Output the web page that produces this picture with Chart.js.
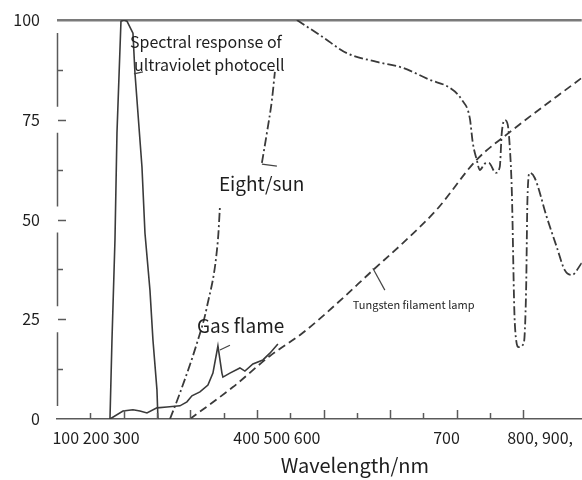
<!DOCTYPE html>
<html>
<head>
<meta charset="utf-8">
<script src="https://cdn.jsdelivr.net/npm/chart.js@4.4.1/dist/chart.umd.min.js"></script>
<style>
  html, body { margin: 0; padding: 0; background: #ffffff; }
  #wrap { width: 582px; height: 480px; }
</style>
</head>
<body>
<div id="wrap"><canvas id="c" width="582" height="480"></canvas></div>
<script>
// ---- data (x in axis-position units, y in relative %) ----
const uvX  = [1.59, 1.65, 1.74, 1.80, 1.92, 2.01, 2.10, 2.28, 2.34, 2.55, 2.64, 2.79, 2.88, 3.00, 3.03];
const uvY  = [0, 19.8, 44.9, 71.7, 99.7, 100, 99.7, 96.7, 86.7, 63.2, 46.6, 32.3, 19.8, 7.3, 0];

const gasX = [1.59, 1.98, 2.28, 2.49, 2.70, 3.00, 3.30, 3.69, 3.90, 4.05, 4.29, 4.53, 4.68, 4.83, 4.95, 4.98, 5.19, 5.49, 5.64, 5.88, 6.18, 6.39, 6.63];
const gasY = [0, 2.0, 2.3, 2.0, 1.5, 2.8, 3.0, 3.3, 4.3, 5.8, 6.8, 8.5, 11.5, 18.3, 11.5, 10.5, 11.5, 12.8, 12.0, 13.8, 14.8, 16.5, 18.8];

const sunX = [3.39, 3.69, 4.20, 4.50, 4.83, 4.89, 5.50, 6.15, 6.30, 6.45, 6.54, 6.90, 7.20, 7.98, 8.70, 9.60, 10.38, 11.19, 11.79, 12.15,
              12.39, 12.48, 12.60, 12.69, 12.84, 12.96, 13.17, 13.29, 13.35, 13.44, 13.53, 13.59, 13.65, 13.74, 13.86, 14.01,
              14.08, 14.12, 14.19, 14.34, 14.70, 15.00, 15.24, 15.45, 15.75];
const sunY = [0, 6.5, 19.0, 28.1, 44.9, 53.1, null, 64.2, 71.7, 79.9, 87.0, null, 100, 95.7, 91.7, 89.5, 88.0, 85.0, 83.0, 80.0,
              75.4, 69.2, 64.9, 62.4, 64.0, 64.2, 61.7, 63.2, 71.7, 74.9, 73.7, 68.2, 57.4, 24.1, 18.0, 19.0,
              32.3, 55.0, 61.7, 60.4, 50.6, 43.1, 37.3, 36.1, 39.1];

const tungX = [3.99, 5.28, 6.39, 7.38, 8.58, 9.39, 10.38, 11.40, 12.60, 13.59, 15.75];
const tungY = [0, 8.0, 15.8, 21.6, 30.3, 36.6, 44.1, 52.5, 65.0, 71.9, 85.5];

const xTickLabels = ['100 200 300', '400 500 600', '700', '800, 900,'];
const xTickAt     = [1.17, 6.6, 11.69, 14.5];
const yTickLabels = ['0', '25', '50', '75', '100'];

const seriesNames = ['Spectral response of ultraviolet photocell', 'Gas flame', 'Eight/sun', 'Tungsten filament lamp'];
const axisTitle = 'Wavelength/nm';

// ---- helpers ----
const pts = (xs, ys) => xs.map((x, i) => ({ x: x, y: ys[i] }));
const FONT = '"Noto Sans CJK SC", "Noto Sans", sans-serif';
Chart.defaults.font.family = FONT;

// text annotations and leader lines, anchored in data units
const notes = [
  { text: 'Spectral response of', x: 2.19, y: 93.0, size: 16 },
  { text: 'ultraviolet photocell', x: 2.31, y: 87.2, size: 16 },
  { text: 'Eight/sun', x: 4.86, y: 57.1, size: 19 },
  { text: 'Gas flame', x: 4.20, y: 21.6, size: 19 },
  { text: 'Tungsten filament lamp', x: 8.88, y: 27.6, size: 11 }
];
const leaders = [
  [2.31, 86.5, 2.58, 87.0],
  [6.15, 63.9, 6.60, 63.4],
  [4.89, 17.3, 5.19, 18.5],
  [9.48, 37.8, 9.84, 32.3]
];

const decor = {
  id: 'decor',
  afterDatasetsDraw(chart) {
    const { ctx, chartArea } = chart;
    const x = chart.scales.x, y = chart.scales.y;
    ctx.save();
    ctx.strokeStyle = '#5a5a5a';
    ctx.lineWidth = 1.5;
    // y axis line, interrupted at labelled ticks
    const ax = Math.round(chartArea.left) + 0.5;
    for (let k = 0; k < yTickLabels.length - 1; k++) {
      const yLow = y.getPixelForValue(k * 25), yHigh = y.getPixelForValue((k + 1) * 25);
      ctx.beginPath();
      ctx.moveTo(ax, yLow - 13);
      ctx.lineTo(ax, yHigh + 13);
      ctx.stroke();
    }
    // inward tick marks on x
    x.ticks.forEach(t => {
      const v = t.value;
      if (v <= 0 || v >= x.max || !Number.isInteger(v)) return;
      const px = Math.round(x.getPixelForValue(v)) + 0.5;
      const len = v % 2 === 0 ? 9 : 6;
      ctx.beginPath();
      ctx.moveTo(px, chartArea.bottom);
      ctx.lineTo(px, chartArea.bottom - len);
      ctx.stroke();
    });
    // inward tick marks on y
    y.ticks.forEach(t => {
      const v = t.value;
      if (v <= 0 || v >= 100) return;
      const py = Math.round(y.getPixelForValue(v)) + 0.5;
      const major = v % 25 === 0;
      ctx.beginPath();
      ctx.moveTo(chartArea.left + (major ? 1 : 0), py);
      ctx.lineTo(chartArea.left + (major ? 9 : 6), py);
      ctx.stroke();
    });
    // leader lines
    ctx.strokeStyle = '#444';
    ctx.lineWidth = 1.2;
    leaders.forEach(l => {
      ctx.beginPath();
      ctx.moveTo(x.getPixelForValue(l[0]), y.getPixelForValue(l[1]));
      ctx.lineTo(x.getPixelForValue(l[2]), y.getPixelForValue(l[3]));
      ctx.stroke();
    });
    // labels
    ctx.fillStyle = '#1e1e1e';
    ctx.textBaseline = 'alphabetic';
    ctx.textAlign = 'left';
    notes.forEach(n => {
      ctx.font = n.size + 'px ' + FONT;
      ctx.fillText(n.text, x.getPixelForValue(n.x), y.getPixelForValue(n.y));
    });
    // axis title
    ctx.font = '20px ' + FONT;
    ctx.textAlign = 'center';
    ctx.fillText(axisTitle, x.getPixelForValue(8.94), y.getPixelForValue(-13.5));
    ctx.restore();
  }
};

const lineCol = '#3a3a3a';
new Chart(document.getElementById('c'), {
  type: 'line',
  data: {
    datasets: [
      { label: seriesNames[0], data: pts(uvX, uvY), borderColor: lineCol, borderWidth: 1.6, pointRadius: 0, tension: 0 },
      { label: seriesNames[1], data: pts(gasX, gasY), borderColor: lineCol, borderWidth: 1.6, pointRadius: 0, tension: 0 },
      { label: seriesNames[2], data: pts(sunX, sunY), borderColor: lineCol, borderWidth: 1.8, pointRadius: 0,
        borderDash: [9, 3, 2, 3], cubicInterpolationMode: 'monotone', spanGaps: false },
      { label: seriesNames[3], data: pts(tungX, tungY), borderColor: lineCol, borderWidth: 1.8, pointRadius: 0,
        borderDash: [8, 4.5], cubicInterpolationMode: 'monotone' }
    ]
  },
  options: {
    responsive: false,
    animation: false,
    devicePixelRatio: 1,
    layout: { padding: { top: 20, right: 0, bottom: 0, left: 0 } },
    plugins: { legend: { display: false }, tooltip: { enabled: false }, title: { display: false } },
    scales: {
      x: {
        type: 'linear', position: 'bottom', weight: 0,
        min: 0, max: 15.75,
        ticks: { stepSize: 1, display: false },
        grid: { drawOnChartArea: false, drawTicks: false },
        border: { display: true, color: '#5a5a5a', width: 1.5 },
        afterFit: s => { s.height = 0; }
      },
      xl: {
        type: 'linear', position: 'bottom', weight: 1,
        min: 0, max: 15.75,
        afterBuildTicks: s => { s.ticks = xTickAt.map(v => ({ value: v })); },
        ticks: {
          autoSkip: false, maxRotation: 0, padding: 9,
          color: '#1e1e1e', font: { size: 16, family: FONT },
          callback: (v, i) => xTickLabels[i]
        },
        grid: { display: false, drawTicks: false },
        border: { display: false },
        afterFit: s => { s.height = 61; }
      },
      y: {
        type: 'linear', position: 'left',
        min: 0, max: 100,
        ticks: {
          stepSize: 12.5, padding: 0,
          color: '#1e1e1e', font: { size: 16, family: FONT },
          callback: v => (v % 25 === 0 ? yTickLabels[v / 25] : '')
        },
        grid: {
          drawTicks: true, tickLength: 17, tickColor: 'rgba(0,0,0,0)',
          color: c => (c.tick && c.tick.value === 100 ? '#7a7a7a' : 'rgba(0,0,0,0)'),
          lineWidth: c => (c.tick && c.tick.value === 100 ? 2.5 : 0)
        },
        border: { display: false },
        afterFit: s => { s.width = 57; }
      }
    }
  },
  plugins: [decor]
});
</script>
</body>
</html>
